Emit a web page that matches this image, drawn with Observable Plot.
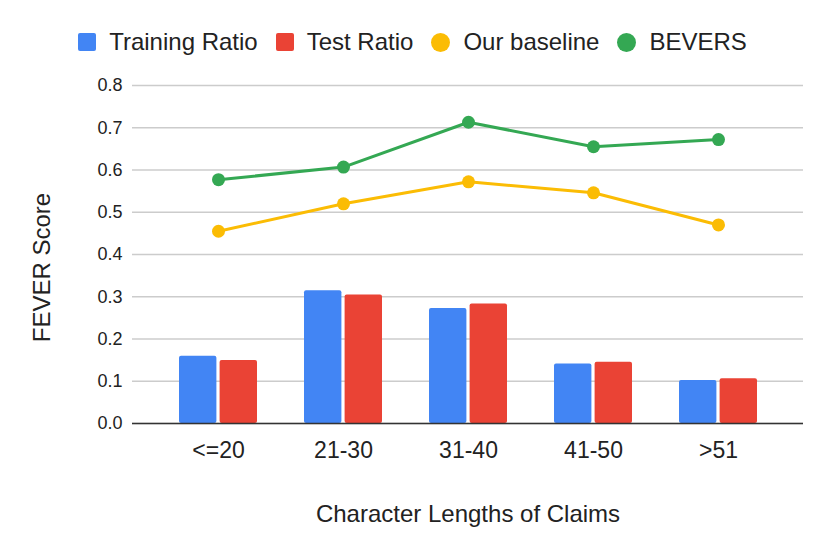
<!DOCTYPE html>
<html>
<head>
<meta charset="utf-8">
<script src="https://cdn.jsdelivr.net/npm/d3@7"></script>
<script src="https://cdn.jsdelivr.net/npm/@observablehq/plot@0.6"></script>
<style>
  html, body { margin: 0; padding: 0; background: #fff; }
  body { width: 830px; height: 556px; overflow: hidden; font-family: "Liberation Sans", Arial, sans-serif; }
  #legend { height: 70px; display: flex; justify-content: center; align-items: center; padding-top: 14px; box-sizing: border-box; padding-right: 5px; }
  .item { display: flex; align-items: center; margin: 0 9px; font-size: 24px; color: #222; }
  .sw { width: 18px; height: 18px; margin-right: 13px; border-radius: 2px; }
  .sw.circle { width: 19px; height: 19px; border-radius: 50%; }
  svg { display: block; }
</style>
</head>
<body>
<div id="legend"></div>
<div id="chart"></div>
<script>
const categories = ["<=20", "21-30", "31-40", "41-50", ">51"];
const trainingRatio = [0.159, 0.314, 0.272, 0.141, 0.102];
const testRatio = [0.149, 0.304, 0.283, 0.145, 0.106];
const ourBaseline = [0.455, 0.520, 0.572, 0.546, 0.470];
const bevers = [0.577, 0.607, 0.713, 0.655, 0.672];
const yTicks = [0, 0.1, 0.2, 0.3, 0.4, 0.5, 0.6, 0.7, 0.8];
const seriesNames = ["Training Ratio", "Test Ratio", "Our baseline", "BEVERS"];
const seriesColors = ["#4285F4", "#EA4335", "#FBBC04", "#34A853"];
const seriesShapes = ["square", "square", "circle", "circle"];
const xTitle = "Character Lengths of Claims";
const yTitle = "FEVER Score";

const rows = categories.map((c, i) => ({
  cat: c, training: trainingRatio[i], test: testRatio[i], baseline: ourBaseline[i], bevers: bevers[i]
}));

// legend
const legend = document.getElementById("legend");
seriesNames.forEach((n, i) => {
  const it = document.createElement("div");
  it.className = "item";
  const sw = document.createElement("span");
  sw.className = "sw" + (seriesShapes[i] === "circle" ? " circle" : "");
  sw.style.background = seriesColors[i];
  it.appendChild(sw);
  const t = document.createElement("span");
  t.textContent = n;
  it.appendChild(t);
  legend.appendChild(it);
});

const chart = Plot.plot({
  width: 830,
  height: 486,
  marginLeft: 132,
  marginRight: 27,
  marginTop: 15,
  marginBottom: 133,
  style: { fontFamily: "Liberation Sans, Arial, sans-serif", color: "#222", background: "#fff" },
  x: { domain: categories, paddingInner: 0.376, paddingOuter: 0.368, label: null },
  y: { domain: [0, 0.8], label: null },
  marks: [
    Plot.gridY(yTicks, { stroke: "#ccc", strokeOpacity: 1, strokeWidth: 1.3 }),
    Plot.axisY(yTicks, { tickSize: 0, tickPadding: 10, tickFormat: d3.format(".1f"), fontSize: 18, fill: "#222", label: null }),
    Plot.axisX({ tickSize: 0, tickPadding: 18, fontSize: 23, fill: "#222", label: null }),
    Plot.barY(rows, { x: "cat", y: "training", fill: seriesColors[0], insetRight: 40.6, rx: 2 }),
    Plot.barY(rows, { x: "cat", y: "test", fill: seriesColors[1], insetLeft: 40.6, rx: 2 }),
    Plot.ruleY([0], { stroke: "#333", strokeWidth: 1.5 }),
    Plot.line(rows, { x: "cat", y: "baseline", stroke: seriesColors[2], strokeWidth: 3 }),
    Plot.dot(rows, { x: "cat", y: "baseline", fill: seriesColors[2], r: 6.5 }),
    Plot.line(rows, { x: "cat", y: "bevers", stroke: seriesColors[3], strokeWidth: 3 }),
    Plot.dot(rows, { x: "cat", y: "bevers", fill: seriesColors[3], r: 6.5 }),
    Plot.text([xTitle], { frameAnchor: "bottom", dy: 91, lineAnchor: "middle", textAnchor: "middle", fontSize: 24, fill: "#222" }),
    Plot.text([yTitle], { frameAnchor: "left", rotate: -90, dx: -90, dy: 13, lineAnchor: "middle", textAnchor: "middle", fontSize: 24, fill: "#222" })
  ]
});
document.getElementById("chart").appendChild(chart);
</script>
</body>
</html>
